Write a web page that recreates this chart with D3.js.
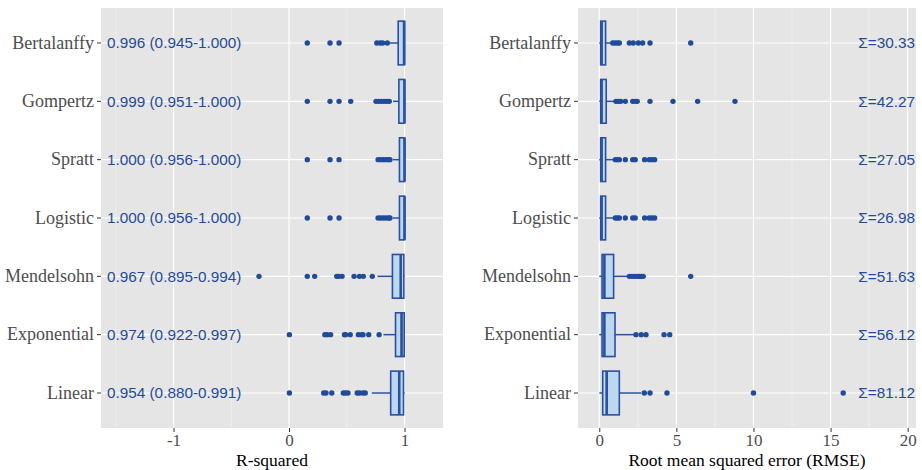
<!DOCTYPE html>
<html><head><meta charset="utf-8">
<script src="https://cdn.jsdelivr.net/npm/d3@7"></script>
<style>body{margin:0;background:#fff}svg{display:block}</style>
</head><body>
<script>
const categories = ["Bertalanffy","Gompertz","Spratt","Logistic","Mendelsohn","Exponential","Linear"];

// R-squared box stats: [whiskerLow, q1, median, q3, whiskerHigh]
const r2Stats = [
  [0.87, 0.945, 0.996, 1.000, 1.000],
  [0.90, 0.951, 0.999, 1.000, 1.000],
  [0.90, 0.956, 1.000, 1.000, 1.000],
  [0.90, 0.956, 1.000, 1.000, 1.000],
  [0.765, 0.895, 0.967, 0.994, 1.000],
  [0.817, 0.922, 0.974, 0.997, 1.000],
  [0.716, 0.880, 0.954, 0.991, 1.000]
];
const r2Outliers = [
  [0.158, 0.355, 0.433, 0.760, 0.788, 0.811, 0.851],
  [0.158, 0.355, 0.433, 0.534, 0.753, 0.776, 0.799, 0.822, 0.846, 0.868],
  [0.158, 0.355, 0.433, 0.771, 0.794, 0.817, 0.840, 0.863, 0.874],
  [0.158, 0.355, 0.433, 0.771, 0.794, 0.817, 0.840, 0.863, 0.874],
  [-0.26, 0.158, 0.222, 0.413, 0.430, 0.459, 0.563, 0.609, 0.643, 0.721],
  [0.003, 0.31, 0.33, 0.36, 0.48, 0.49, 0.53, 0.60, 0.63, 0.64, 0.69, 0.78],
  [0.003, 0.30, 0.32, 0.37, 0.47, 0.49, 0.51, 0.59, 0.61, 0.64, 0.66]
];
const r2Labels = ["0.996 (0.945-1.000)","0.999 (0.951-1.000)","1.000 (0.956-1.000)","1.000 (0.956-1.000)","0.967 (0.895-0.994)","0.974 (0.922-0.997)","0.954 (0.880-0.991)"];

// RMSE box stats
const rmseStats = [
  [0.0, 0.09, 0.15, 0.41, 0.80],
  [0.0, 0.09, 0.15, 0.45, 0.97],
  [0.0, 0.09, 0.15, 0.41, 0.90],
  [0.0, 0.09, 0.15, 0.41, 0.90],
  [0.0, 0.18, 0.33, 0.93, 1.88],
  [0.0, 0.18, 0.33, 1.02, 2.35],
  [0.0, 0.22, 0.48, 1.30, 2.72]
];
const rmseOutliers = [
  [0.87, 1.02, 1.17, 1.30, 1.95, 2.20, 2.53, 2.81, 3.29, 5.93],
  [1.08, 1.23, 1.39, 1.69, 2.17, 2.33, 2.46, 3.29, 4.78, 6.38, 8.80],
  [1.04, 1.17, 1.30, 1.69, 2.17, 2.33, 2.94, 3.24, 3.42, 3.59],
  [1.04, 1.17, 1.30, 1.69, 2.17, 2.33, 2.94, 3.24, 3.42, 3.59],
  [1.95, 2.12, 2.29, 2.46, 2.59, 2.72, 2.85, 5.93],
  [2.38, 2.72, 3.03, 4.20, 4.57],
  [2.92, 3.29, 4.39, 10.0, 15.82]
];
const rmseLabels = ["Σ=30.33","Σ=42.27","Σ=27.05","Σ=26.98","Σ=51.63","Σ=56.12","Σ=81.12"];

const r2Ticks = [-1, 0, 1];
const r2Minor = [-1.5, -0.5, 0.5];
const rmseTicks = [0, 5, 10, 15, 20];
const rmseMinor = [2.5, 7.5, 12.5, 17.5];

const W = 922, H = 470;
const svg = d3.select("body").append("svg").attr("width", W).attr("height", H);
const topY = 8, bottomY = 428;
const BLUE = "#1f4b99", BOXSTROKE = "#2a50a0", FILL = "#bdd7ee", BG = "#e5e5e5";
const serif = "'Liberation Serif','Times New Roman',serif";
const sans = "'Liberation Sans',Arial,sans-serif";

const y = d3.scaleBand().domain(categories).range([topY, bottomY]).paddingOuter(0.1).paddingInner(0);

function panel(opts){
  const {x0, x1, domain, ticks, minor, stats, outliers, title, labels, labelMode} = opts;
  const x = d3.scaleLinear().domain(domain).range([x0, x1]);
  const g = svg.append("g");
  g.append("rect").attr("x", x0).attr("y", topY).attr("width", x1 - x0).attr("height", bottomY - topY).attr("fill", BG);
  g.selectAll(".mn").data(minor).join("line").attr("x1", d=>x(d)).attr("x2", d=>x(d))
    .attr("y1", topY).attr("y2", bottomY).attr("stroke", "#f5f5f5").attr("stroke-width", 0.6);
  g.selectAll(".mj").data(ticks).join("line").attr("x1", d=>x(d)).attr("x2", d=>x(d))
    .attr("y1", topY).attr("y2", bottomY).attr("stroke", "#fff").attr("stroke-width", 1.2);
  g.selectAll(".hy").data(categories).join("line").attr("x1", x0).attr("x2", x1)
    .attr("y1", d=>y(d)+y.bandwidth()/2).attr("y2", d=>y(d)+y.bandwidth()/2)
    .attr("stroke", "#fff").attr("stroke-width", 1.2);

  if (labelMode === "left") {
    g.selectAll(".lb").data(labels).join("text")
      .attr("x", x0 + 6).attr("y", (d,i)=>y(categories[i])+y.bandwidth()/2)
      .attr("dy", "0.35em").attr("font-family", sans).attr("font-size", 15.3)
      .attr("fill", BLUE).text(d=>d);
  } else {
    g.selectAll(".lb").data(labels).join("text")
      .attr("x", x1 - 1).attr("y", (d,i)=>y(categories[i])+y.bandwidth()/2)
      .attr("dy", "0.35em").attr("text-anchor", "end").attr("font-family", sans).attr("font-size", 15.3)
      .attr("fill", BLUE).text(d=>d);
  }

  const bh = y.bandwidth() * 0.75;
  categories.forEach((c, i) => {
    const cy = y(c) + y.bandwidth()/2;
    const s = stats[i];
    const gg = g.append("g");
    gg.append("line").attr("x1", x(s[0])).attr("x2", x(s[1])).attr("y1", cy).attr("y2", cy)
      .attr("stroke", BOXSTROKE).attr("stroke-width", 1.5);
    gg.append("line").attr("x1", x(s[3])).attr("x2", x(s[4])).attr("y1", cy).attr("y2", cy)
      .attr("stroke", BOXSTROKE).attr("stroke-width", 1.5);
    gg.append("rect").attr("x", x(s[1])).attr("y", cy - bh/2).attr("width", Math.max(0.5, x(s[3]) - x(s[1])))
      .attr("height", bh).attr("fill", FILL).attr("stroke", BOXSTROKE).attr("stroke-width", 1.6);
    gg.append("line").attr("x1", x(s[2])).attr("x2", x(s[2])).attr("y1", cy - bh/2).attr("y2", cy + bh/2)
      .attr("stroke", BOXSTROKE).attr("stroke-width", 2.6);
    gg.selectAll("circle").data(outliers[i]).join("circle")
      .attr("cx", d=>x(d)).attr("cy", cy).attr("r", 2.7).attr("fill", BLUE);
  });

  const ya = svg.append("g").attr("transform", `translate(${x0},0)`)
    .call(d3.axisLeft(y).tickSize(4).tickPadding(3));
  ya.select(".domain").remove();
  ya.selectAll(".tick line").attr("stroke", "#333").attr("stroke-width", 1);
  ya.selectAll(".tick text").attr("font-family", serif).attr("font-size", 18).attr("fill", "#4d4d4d");

  const xa = svg.append("g").attr("transform", `translate(0,${bottomY})`)
    .call(d3.axisBottom(x).tickValues(ticks).tickSize(4).tickPadding(2).tickFormat(d => String(d)));
  xa.select(".domain").remove();
  xa.selectAll(".tick line").attr("stroke", "#333");
  xa.selectAll(".tick text").attr("font-family", serif).attr("font-size", 17).attr("fill", "#4d4d4d");

  svg.append("text").attr("x", (x0 + x1)/2).attr("y", 466).attr("text-anchor", "middle")
    .attr("font-family", serif).attr("font-size", 17.5).attr("fill", "#000").text(title);
}

panel({x0: 101, x1: 443, domain: [-1.628, 1.333], ticks: r2Ticks, minor: r2Minor,
  stats: r2Stats, outliers: r2Outliers, title: "R-squared", labels: r2Labels, labelMode: "left"});
panel({x0: 578, x1: 916, domain: [-1.38, 20.54], ticks: rmseTicks, minor: rmseMinor,
  stats: rmseStats, outliers: rmseOutliers, title: "Root mean squared error (RMSE)", labels: rmseLabels, labelMode: "right"});
</script>
</body></html>
